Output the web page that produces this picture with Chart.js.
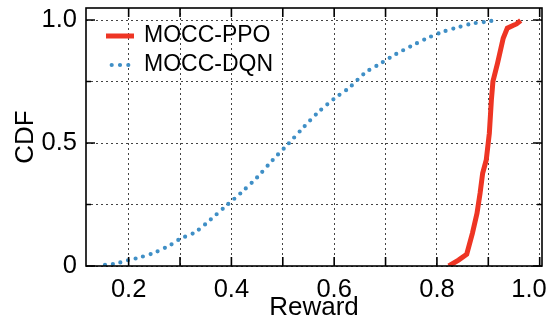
<!DOCTYPE html>
<html>
<head>
<meta charset="utf-8">
<script src="https://cdn.jsdelivr.net/npm/chart.js@4/dist/chart.umd.min.js"></script>
<style>
  body { margin: 0; background: #fff; }
  #wrap { width: 552px; height: 320px; }
</style>
</head>
<body>
<div id="wrap"><canvas id="myChart" width="552" height="320"></canvas></div>
<script>
// series names
const ppoName = "MOCC-PPO";
const dqnName = "MOCC-DQN";

// MOCC-PPO cdf (reward, cdf)
const ppoReward = [0.823, 0.842, 0.858, 0.869, 0.878, 0.884, 0.889, 0.896, 0.902, 0.906, 0.909, 0.918, 0.929, 0.937, 0.948, 0.955, 0.963];
const ppoCdf = [0, 0.024, 0.048, 0.133, 0.214, 0.296, 0.377, 0.431, 0.54, 0.675, 0.75, 0.825, 0.926, 0.967, 0.978, 0.984, 0.998];

// MOCC-DQN cdf (reward, cdf)
const dqnReward = [0.154, 0.175, 0.2, 0.22, 0.25, 0.28, 0.3, 0.33, 0.36, 0.39, 0.42, 0.45, 0.48, 0.51, 0.54, 0.57, 0.6, 0.63, 0.66, 0.69, 0.72, 0.75, 0.78, 0.81, 0.84, 0.87, 0.9, 0.915];
const dqnCdf = [0.005, 0.01, 0.024, 0.034, 0.054, 0.084, 0.11, 0.138, 0.19, 0.245, 0.3, 0.36, 0.43, 0.495, 0.563, 0.627, 0.68, 0.726, 0.785, 0.823, 0.861, 0.894, 0.925, 0.951, 0.97, 0.986, 0.994, 1.0];

// axis ticks (last x label padded so it sits inside the figure like the original)
const xTicks = [0.2, 0.3, 0.4, 0.5, 0.6, 0.7, 0.8, 0.9, 1.0];
const xTickLabels = ["0.2", "", "0.4", "", "0.6", "", "0.8", "", "1.0   "];
const yTicks = [0, 0.25, 0.5, 0.75, 1.0];
const yTickLabels = ["0", "", "0.5", "", "1.0"];

const FONT = "'Liberation Sans', Arial, Helvetica, sans-serif";
const RED = "#ee3524";
const BLUE = "#3f8fc6";

function toPoints(xs, ys) {
  return xs.map((x, i) => ({ x: x, y: ys[i] }));
}

function noPadding(scale) {
  scale.paddingTop = 0;
  scale.paddingBottom = 0;
  scale.paddingLeft = 0;
  scale.paddingRight = 0;
}

// frame + inward tick marks on all four sides
const framePlugin = {
  id: "frame",
  afterDraw(chart) {
    const { ctx, chartArea: a } = chart;
    const xs = chart.scales.x;
    const ys = chart.scales.y;
    ctx.save();
    ctx.strokeStyle = "#000";
    ctx.lineWidth = 1.6;
    ctx.setLineDash([]);
    ctx.strokeRect(a.left, a.top, a.right - a.left, a.bottom - a.top);
    ctx.beginPath();
    xTicks.forEach((v) => {
      const px = xs.getPixelForValue(v);
      ctx.moveTo(px, a.bottom);
      ctx.lineTo(px, a.bottom - 9);
      ctx.moveTo(px, a.top);
      ctx.lineTo(px, a.top + 9);
    });
    yTicks.forEach((v, i) => {
      const py = ys.getPixelForValue(v);
      const len = yTickLabels[i] ? 9 : 5;
      ctx.moveTo(a.left, py);
      ctx.lineTo(a.left + len, py);
      ctx.moveTo(a.right, py);
      ctx.lineTo(a.right - len, py);
    });
    ctx.stroke();
    ctx.restore();
  },
};

// legend inside the plot, top left
const legendPlugin = {
  id: "insideLegend",
  afterDraw(chart) {
    const { ctx } = chart;
    const rows = [36, 65];
    ctx.save();
    chart.data.datasets.forEach((ds, i) => {
      const y = rows[i];
      const dotted = ds.borderDash && ds.borderDash.length;
      ctx.beginPath();
      ctx.strokeStyle = ds.borderColor;
      ctx.lineWidth = ds.borderWidth;
      ctx.lineCap = ds.borderCapStyle || "butt";
      ctx.setLineDash(dotted ? [0, 8.3] : []);
      if (dotted) {
        ctx.moveTo(111.7, y);
        ctx.lineTo(129, y);
      } else {
        ctx.moveTo(106, y);
        ctx.lineTo(134, y);
      }
      ctx.stroke();
      ctx.setLineDash([]);
      ctx.fillStyle = "#000";
      ctx.font = "23px " + FONT;
      ctx.textAlign = "left";
      ctx.textBaseline = "middle";
      ctx.fillText(ds.label, 144, y);
    });
    ctx.restore();
  },
};

const data = {
  datasets: [
    {
      label: ppoName,
      data: toPoints(ppoReward, ppoCdf),
      borderColor: RED,
      backgroundColor: RED,
      borderWidth: 5,
      pointRadius: 0,
      tension: 0,
      fill: false,
      borderCapStyle: "butt",
    },
    {
      label: dqnName,
      data: toPoints(dqnReward, dqnCdf),
      borderColor: BLUE,
      backgroundColor: BLUE,
      borderWidth: 4.2,
      borderDash: [0, 7.8],
      borderCapStyle: "round",
      pointRadius: 0,
      tension: 0.3,
      fill: false,
    },
  ],
};

const config = {
  type: "line",
  data: data,
  options: {
    responsive: false,
    animation: false,
    devicePixelRatio: 1,
    layout: { padding: { top: 8, right: 10, left: 0, bottom: 0 } },
    plugins: {
      legend: { display: false },
      tooltip: { enabled: false },
    },
    scales: {
      x: {
        type: "linear",
        min: 0.117,
        max: 1.0045,
        afterBuildTicks: (scale) => {
          scale.ticks = xTicks.map((v) => ({ value: v }));
        },
        afterFit: (scale) => {
          scale.height = 54;
          noPadding(scale);
        },
        ticks: {
          autoSkip: false,
          maxRotation: 0,
          padding: 11,
          color: "#000",
          font: { family: FONT, size: 25.5, lineHeight: 1 },
          callback: (value, index) => xTickLabels[index],
        },
        grid: { drawTicks: false, color: "#444", lineWidth: 1 },
        border: { display: false, dash: [2, 3] },
        title: {
          display: true,
          text: "Reward",
          color: "#000",
          font: { family: FONT, size: 26, lineHeight: 1 },
          padding: { top: 0, bottom: -1 },
        },
      },
      y: {
        type: "linear",
        min: 0,
        max: 1.0488,
        afterBuildTicks: (scale) => {
          scale.ticks = yTicks.map((v) => ({ value: v }));
        },
        afterFit: (scale) => {
          scale.width = 86;
          noPadding(scale);
        },
        ticks: {
          autoSkip: false,
          padding: 9,
          color: "#000",
          font: { family: FONT, size: 25.5, lineHeight: 1 },
          callback: (value, index) => yTickLabels[index],
        },
        grid: { drawTicks: false, color: "#444", lineWidth: 1 },
        border: { display: false, dash: [2, 3] },
        title: {
          display: true,
          text: "CDF",
          color: "#000",
          font: { family: FONT, size: 26, lineHeight: 1 },
          padding: { top: 13, bottom: 0 },
        },
      },
    },
  },
  plugins: [framePlugin, legendPlugin],
};

const myChart = new Chart(document.getElementById("myChart"), config);
</script>
</body>
</html>
